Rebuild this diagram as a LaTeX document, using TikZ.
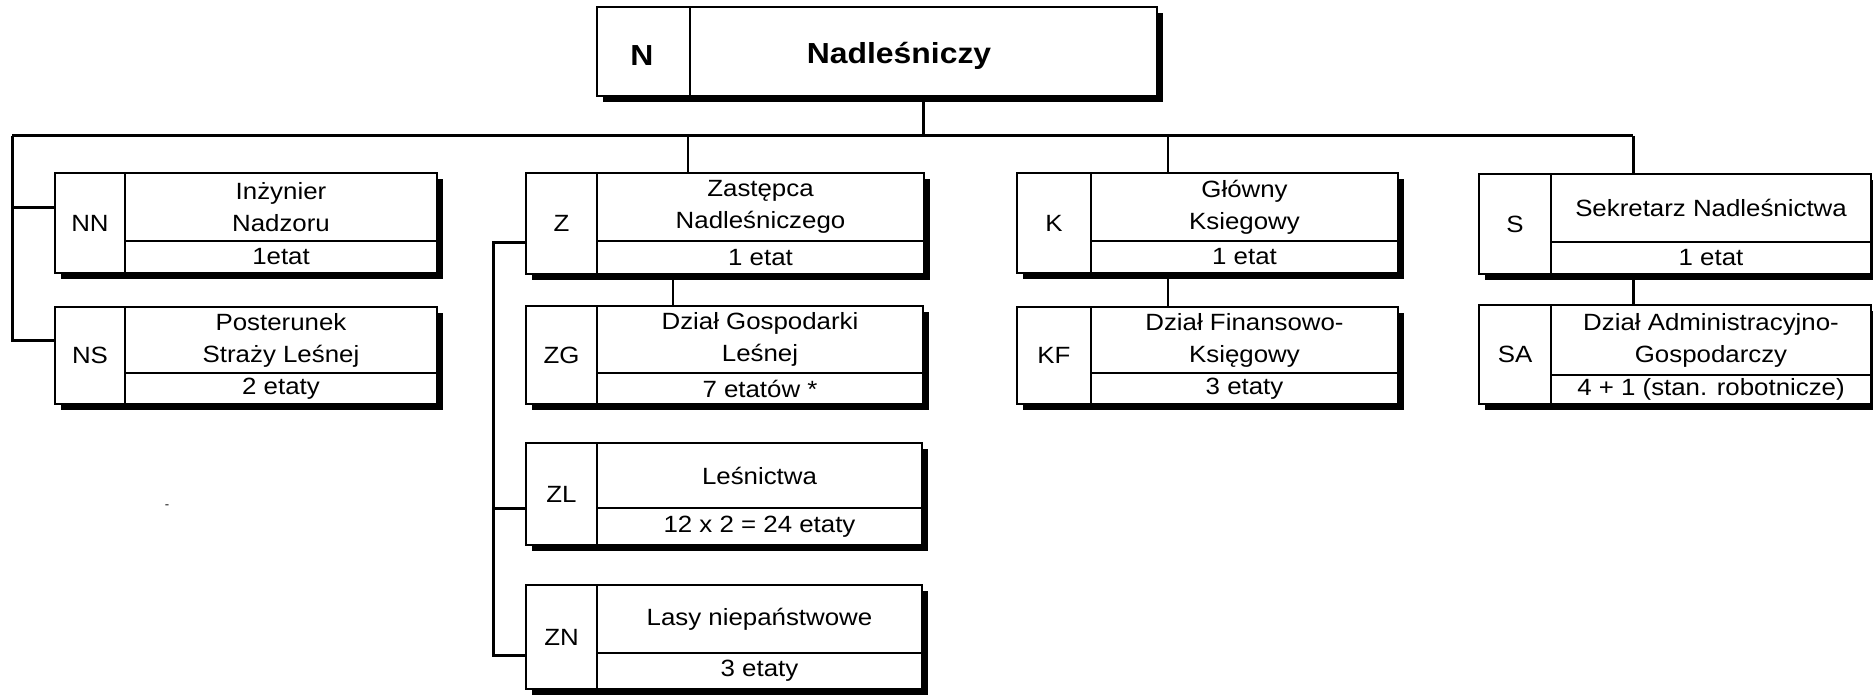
\documentclass[tikz,border=0pt]{standalone}
\usepackage{fontspec}
\setmainfont{Liberation Sans}[FakeStretch=1.1]
\usetikzlibrary{calc,fit}
\pgfdeclarelayer{paper}
\pgfdeclarelayer{bg}
\pgfsetlayers{paper,bg,main}
\tikzset{
  boxst/.style={draw, line width=2.2pt, fill=white, inner sep=0pt, outer sep=0pt},
  divst/.style={line width=2pt},
  shadowst/.style={fill=black},
  txt/.style={font=\fontsize{23.5}{32}\selectfont, align=center, inner sep=0pt},
  bigtxt/.style={font=\fontsize{29}{34}\selectfont\bfseries, inner sep=0pt},
  conn/.style={line width=3pt},
  connthin/.style={line width=1.8pt},
}
\newcommand\orgbox[7]{%
  \fill[shadowst] ($(#2)+(6,6)$) rectangle ($(#3)+(6,6)$);
  \coordinate (#1-nw) at (#2);
  \coordinate (#1-se) at (#3);
  \coordinate (#1-d) at (#4);
  \node[boxst, fit=(#1-nw)(#1-se)] (#1) {};
  \draw[divst] (#1-d |- #1.north) -- (#1-d |- #1.south);
  \draw[divst] (#1-d) -- (#1-d -| #1.east);
  \node[txt] (#1-code) at ($(#1.north west)!0.5!(#1-d |- #1.south)$) {#5};
  \node[txt] (#1-title) at ($(#1-d |- #1.north)!0.5!(#1.east |- #1-d)$) {#6};
  \node[txt] (#1-etat) at ($(#1-d)!0.5!(#1.south east)$) {#7};
}
\begin{document}
\begin{tikzpicture}[x=1pt,y=-1pt]
\useasboundingbox (0,0) rectangle (1873,695);
\begin{pgfonlayer}{paper}
\fill[white] (0,0) rectangle (1873,695);
\end{pgfonlayer}

% top box
\fill[shadowst] (603,13) rectangle (1163,102);
\coordinate (N-nw) at (597,7);
\coordinate (N-se) at (1157,96);
\coordinate (N-d) at (690,96);
\node[boxst, fit=(N-nw)(N-se)] (N) {};
\draw[divst] (N-d |- N.north) -- (N-d |- N.south);
\node[bigtxt] (N-code) at (642,56) {N};
\node[bigtxt] (N-title) at (899,56) {Nadleśniczy};

\orgbox{NN}{55,173}{437,273}{125,241}{NN}{Inżynier\\Nadzoru}{1etat}
\orgbox{NS}{55,307}{437,404}{125,373}{NS}{Posterunek\\Straży Leśnej}{2 etaty}
\orgbox{Z}{526,173}{924,274}{597,241}{Z}{Zastępca\\Nadleśniczego}{1 etat}
\orgbox{ZG}{526,306}{923,404}{597,373}{ZG}{Dział Gospodarki\\Leśnej}{7 etatów *}
\orgbox{ZL}{526,443}{922,545}{597,508}{ZL}{Leśnictwa}{12 x 2 = 24 etaty}
\orgbox{ZN}{526,585}{922,689}{597,653}{ZN}{Lasy niepaństwowe}{3 etaty}
\orgbox{K}{1017,173}{1398,273}{1091,241}{K}{Główny\\Ksiegowy}{1 etat}
\orgbox{KF}{1017,307}{1398,404}{1091,373}{KF}{Dział Finansowo-\\Księgowy}{3 etaty}
\orgbox{S}{1479,174}{1871,274}{1551,242}{S}{Sekretarz Nadleśnictwa}{1 etat}
\orgbox{SA}{1479,305}{1871,404}{1551,375}{SA}{Dział Administracyjno-\\Gospodarczy}{4 + 1 (stan. robotnicze)}

\node[font=\fontsize{12}{12}\selectfont, inner sep=0pt] (dash) at (167,507) {-};

\begin{pgfonlayer}{bg}
  \coordinate (busL) at (12,136);
  \coordinate (busR) at (1633,136);
  \coordinate (nj) at (923,136);
  \coordinate (nnj) at (12,208);
  \coordinate (nsj) at (12,340);
  \coordinate (zj) at (688,136);
  \coordinate (zgj) at (673,0);
  \coordinate (kj) at (1168,136);
  \coordinate (zlt) at (493,242);
  \coordinate (zll) at (493,508);
  \coordinate (zlb) at (493,655);
  \draw[conn] (N.south -| nj) -- (nj);
  \draw[conn] (busL) -- (busR);
  \draw[conn] (busL) -- (nsj) -- (nsj -| NS.west);
  \draw[conn] (nnj) -- (nnj -| NN.west);
  \draw[connthin] (zj) -- (zj |- Z.north);
  \draw[connthin] (Z.south -| zgj) -- (ZG.north -| zgj);
  \draw[conn] (Z.west |- zlt) -- (zlt) -- (zlb) -- (zlb -| ZN.west);
  \draw[conn] (zll) -- (zll -| ZL.west);
  \draw[connthin] (kj) -- (kj |- K.north);
  \draw[connthin] (K.south -| kj) -- (KF.north -| kj);
  \draw[conn] (busR) -- (busR |- S.north);
  \draw[conn] (S.south -| busR) -- (SA.north -| busR);
\end{pgfonlayer}
\end{tikzpicture}
\end{document}
